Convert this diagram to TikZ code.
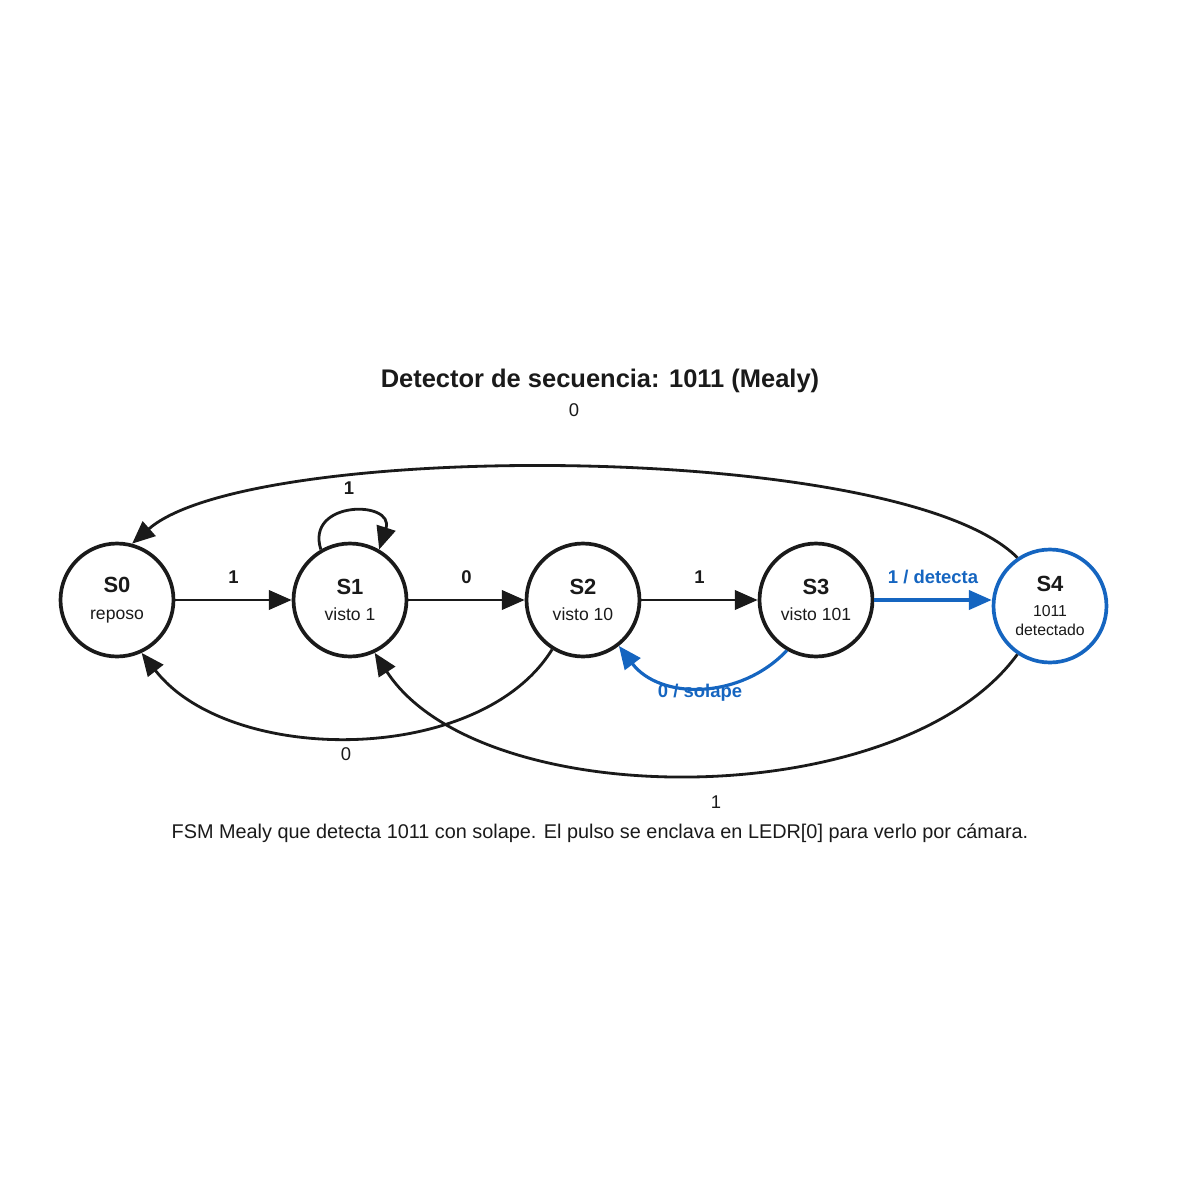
\documentclass[tikz,border=0pt]{standalone}
\usepackage{fontspec}
\setmainfont{Liberation Sans}
\usetikzlibrary{arrows.meta}
\definecolor{ink}{HTML}{1A1A1A}
\definecolor{blu}{HTML}{1565C0}
\begin{document}
\begin{tikzpicture}[x=0.02cm,y=-0.02cm,
 st/.style={circle,draw=ink,line width=2.1pt,minimum size=2.26cm,inner sep=0pt,align=center,text=ink},
 ed/.style={draw=ink,line width=1.6pt,-{Triangle[length=13pt,width=11pt]}},
 be/.style={draw=blu,line width=1.8pt,-{Triangle[length=13pt,width=11pt]}},
 lb/.style={font=\bfseries\fontsize{10.5}{12}\selectfont,text=ink},
 lp/.style={font=\fontsize{10.5}{12}\selectfont,text=ink}]
\useasboundingbox (0,0) rectangle (1200,1200);
\node[st] (s0) at (117,600) {\bfseries\fontsize{12.5}{14}\selectfont S0\\[3pt]\fontsize{10}{12}\selectfont reposo};
\node[st] (s1) at (350,600) {\bfseries\fontsize{12.5}{14}\selectfont S1\\[3pt]\fontsize{10}{12}\selectfont visto 1};
\node[st] (s2) at (583,600) {\bfseries\fontsize{12.5}{14}\selectfont S2\\[3pt]\fontsize{10}{12}\selectfont visto 10};
\node[st] (s3) at (816,600) {\bfseries\fontsize{12.5}{14}\selectfont S3\\[3pt]\fontsize{10}{12}\selectfont visto 101};
\node[st,draw=blu] (s4) at (1050,606) {\bfseries\fontsize{12.5}{14}\selectfont S4\\[2pt]\fontsize{9}{10}\selectfont 1011\\[-1pt]\fontsize{9}{10}\selectfont detectado};
\node[font=\bfseries\fontsize{14.5}{17}\selectfont,text=ink] (t) at (600,381) {Detector de secuencia: 1011 (Mealy)};
\node[font=\fontsize{11.3}{13}\selectfont,text=ink] (c) at (600,833) {FSM Mealy que detecta 1011 con solape. El pulso se enclava en LEDR[0] para verlo por cámara.};
\draw[ed] (s0) -- node[lb,above=5pt]{1} (s1);
\draw[ed] (s1) -- node[lb,above=5pt]{0} (s2);
\draw[ed] (s2) -- node[lb,above=5pt]{1} (s3);
\draw[be] (s3) -- node[lb,text=blu,above=5pt]{1 / detecta} (s4.west|-s3);
\draw[be] (s3.-120) .. controls (740,700) and (660,700) .. (s2.-52);
\node[lb,text=blu] (l32) at (700,693) {0 / solape};
\draw[ed] (s1.120) .. controls (305,500) and (395,500) .. (s1.60);
\node[lb] (l11) at (349,488) {1};
\draw[ed] (s4.124) .. controls (900,440) and (250,440) .. (s0.75);
\node[lp] (l40) at (574,410) {0};
\draw[ed] (s2.-122) .. controls (480,766) and (230,766) .. (s0.-65);
\node[lp] (l20) at (346,754) {0};
\draw[ed] (s4.-124) .. controls (900,815) and (480,815) .. (s1.-65);
\node[lp] (l41) at (716,802) {1};
\end{tikzpicture}
\end{document}
